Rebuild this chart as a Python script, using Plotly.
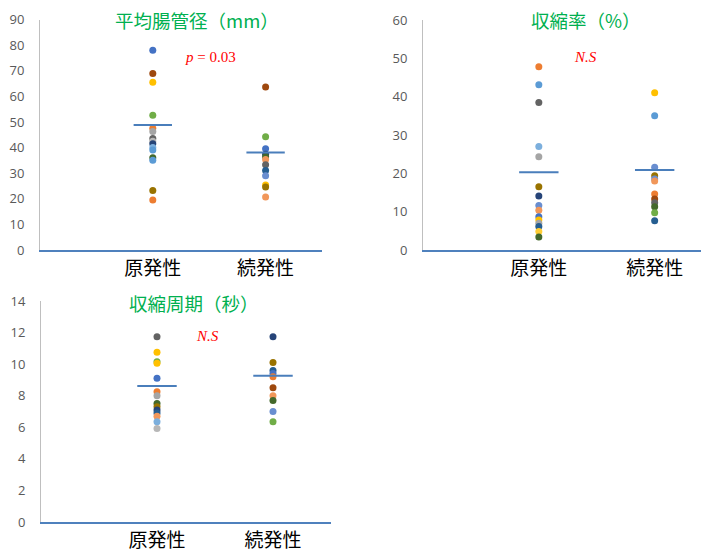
import plotly.graph_objects as go

W, H = 701, 553

categories = ["原発性", "続発性"]

# 平均腸管径（mm）
diam_primary = [78.0, 68.9, 65.5, 52.6, 47.5, 46.3, 43.5, 42.5, 41.5, 40.0, 39.0, 36.0, 35.0, 23.2, 19.5]
diam_primary_colors = ["#4472C4", "#9E480E", "#FFC000", "#70AD47", "#ED7D31", "#A5A5A5", "#636363", "#B7B7B7",
                       "#264478", "#7CAFDD", "#5B9BD5", "#43682B", "#5B9BD5", "#997300", "#ED7D31"]
diam_secondary = [63.6, 44.2, 39.5, 37.4, 36.4, 35.3, 33.3, 31.0, 29.0, 25.4, 24.6, 20.7]
diam_secondary_colors = ["#9E480E", "#70AD47", "#4472C4", "#264478", "#43682B", "#F1975A", "#636363", "#255E91",
                         "#698ED0", "#FFC000", "#997300", "#F1975A"]
diam_means = [48.8, 38.1]

# 収縮率（%）
rate_primary = [47.8, 43.1, 38.5, 27.0, 24.3, 16.5, 14.1, 11.6, 10.4, 8.7, 7.8, 7.0, 6.1, 4.8, 3.4]
rate_primary_colors = ["#ED7D31", "#5B9BD5", "#636363", "#7CAFDD", "#A5A5A5", "#997300", "#264478", "#698ED0",
                       "#F1975A", "#4472C4", "#FFC000", "#A5A5A5", "#255E91", "#FFCD33", "#43682B"]
rate_secondary = [41.0, 35.0, 21.6, 19.4, 18.5, 18.0, 14.6, 13.3, 12.3, 11.3, 9.7, 7.6]
rate_secondary_colors = ["#FFC000", "#5B9BD5", "#698ED0", "#997300", "#698ED0", "#F1975A", "#ED7D31", "#9E480E",
                         "#636363", "#43682B", "#70AD47", "#255E91"]
rate_means = [20.3, 20.9]

# 収縮周期（秒）
cycle_primary = [11.74, 10.75, 10.15, 10.05, 9.1, 8.25, 8.0, 7.5, 7.3, 7.1, 6.9, 6.7, 6.35, 5.93]
cycle_primary_colors = ["#636363", "#FFC000", "#70AD47", "#FFC000", "#4472C4", "#ED7D31", "#A5A5A5", "#43682B",
                        "#997300", "#264478", "#255E91", "#F1975A", "#7CAFDD", "#B7B7B7"]
cycle_secondary = [11.74, 10.1, 9.6, 9.4, 9.2, 8.5, 8.0, 7.7, 7.0, 6.35]
cycle_secondary_colors = ["#264478", "#997300", "#255E91", "#4472C4", "#ED7D31", "#9E480E", "#F1975A", "#43682B",
                          "#698ED0", "#70AD47"]
cycle_means = [8.61, 9.27]

panels = [
    dict(title="平均腸管径（mm）", note="<i>p</i> = 0.03",
         groups=[(diam_primary, diam_primary_colors), (diam_secondary, diam_secondary_colors)],
         means=diam_means, yrange=[0, 90], dtick=10, xrange=[0, 2.5],
         xdom=[40, 322], ydom=[250, 19.5], title_xy=(197, 20), note_xy=(210, 57)),
    dict(title="収縮率（%）", note="<i>N.S</i>",
         groups=[(rate_primary, rate_primary_colors), (rate_secondary, rate_secondary_colors)],
         means=rate_means, yrange=[0, 60], dtick=10, xrange=[0, 2.4],
         xdom=[423, 701], ydom=[250, 20], title_xy=(586, 20), note_xy=(585, 57)),
    dict(title="収縮周期（秒）", note="<i>N.S</i>",
         groups=[(cycle_primary, cycle_primary_colors), (cycle_secondary, cycle_secondary_colors)],
         means=cycle_means, yrange=[0, 14], dtick=2, xrange=[0, 2.5],
         xdom=[41, 331], ydom=[522, 301], title_xy=(194, 303), note_xy=(207, 336)),
]

fig = go.Figure()
layout = {}
annotations = []

for i, p in enumerate(panels, start=1):
    xa = "x" if i == 1 else f"x{i}"
    ya = "y" if i == 1 else f"y{i}"
    for k, (vals, cols) in enumerate(p["groups"]):
        fig.add_trace(go.Scatter(
            x=[k + 1] * len(vals), y=vals, mode="markers",
            marker=dict(size=7, color=cols, line=dict(width=0)),
            xaxis=xa, yaxis=ya, showlegend=False, hoverinfo="y"))
    for k, m in enumerate(p["means"]):
        fig.add_trace(go.Scatter(
            x=[k + 1 - 0.17, k + 1 + 0.17], y=[m, m], mode="lines",
            line=dict(color="#4A7EBB", width=2),
            xaxis=xa, yaxis=ya, showlegend=False, hoverinfo="y"))

    layout["xaxis" if i == 1 else f"xaxis{i}"] = dict(
        domain=[p["xdom"][0] / W, p["xdom"][1] / W], range=p["xrange"],
        anchor=ya, tickvals=[1, 2], ticktext=categories,
        tickfont=dict(family="Noto Sans CJK JP", size=19, color="#000000"),
        showgrid=False, zeroline=False, showline=True, linecolor="#4F81BD", linewidth=1.5,
        ticks="", ticklabelstandoff=0, automargin=False, fixedrange=True)
    layout["yaxis" if i == 1 else f"yaxis{i}"] = dict(
        domain=[1 - p["ydom"][0] / H, 1 - p["ydom"][1] / H], range=p["yrange"],
        anchor=xa, dtick=p["dtick"], tick0=0,
        tickfont=dict(family="Open Sans", size=13, color="#595959"),
        showgrid=False, zeroline=False, showline=True, linecolor="#BFBFBF", linewidth=1,
        ticks="", ticklabelstandoff=12, automargin=False, fixedrange=True)

    annotations.append(dict(
        x=p["title_xy"][0] / W, y=1 - p["title_xy"][1] / H, xref="paper", yref="paper",
        text=p["title"], showarrow=False, xanchor="center", yanchor="middle",
        font=dict(family="Noto Sans CJK JP", size=18.5, color="#00B050")))
    annotations.append(dict(
        x=p["note_xy"][0] / W, y=1 - p["note_xy"][1] / H, xref="paper", yref="paper",
        text=p["note"], showarrow=False, xanchor="center", yanchor="middle",
        font=dict(family="Liberation Serif", size=15, color="#FF0000")))

fig.update_layout(
    width=W, height=H, margin=dict(l=0, r=0, t=0, b=0, autoexpand=False),
    paper_bgcolor="white", plot_bgcolor="white",
    annotations=annotations, **layout)

fig.write_html("out.html")
